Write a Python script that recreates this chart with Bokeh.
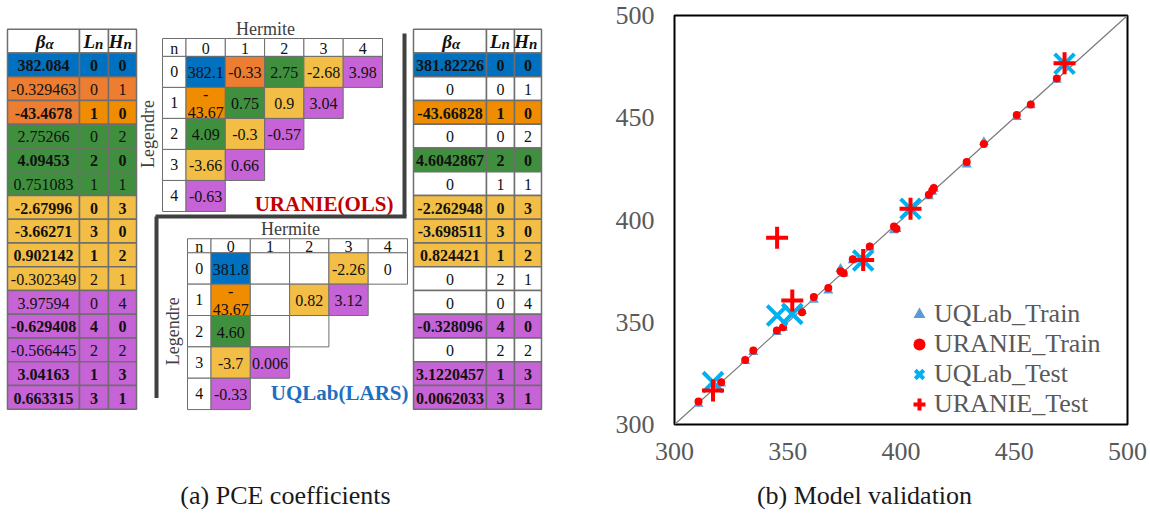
from bokeh.plotting import figure
from bokeh.models import Range1d, ColumnDataSource, FixedTicker, Legend, LegendItem
from bokeh.layouts import column, row
from bokeh.embed import file_html
from bokeh.resources import INLINE
from bokeh.core.properties import value
import math

# ---------------- data ----------------
legendre_n = [0, 0, 1, 0, 2, 1, 0, 3, 1, 2, 0, 4, 2, 1, 3]
hermite_n = [0, 1, 0, 2, 0, 1, 3, 0, 2, 1, 4, 0, 2, 3, 1]
uranie_beta = ["382.084", "-0.329463", "-43.4678", "2.75266", "4.09453", "0.751083",
               "-2.67996", "-3.66271", "0.902142", "-0.302349", "3.97594", "-0.629408",
               "-0.566445", "3.04163", "0.663315"]
uranie_bold = [1, 0, 1, 0, 1, 0, 1, 1, 1, 0, 0, 1, 0, 1, 1]
uqlab_beta = ["381.82226", "0", "-43.66828", "0", "4.6042867", "0", "-2.262948", "-3.698511",
              "0.824421", "0", "0", "-0.328096", "0", "3.1220457", "0.0062033"]
uranie_grid = ["382.1", "-0.33", "-\n43.67", "2.75", "4.09", "0.75", "-2.68", "-3.66",
               "0.9", "-0.3", "3.98", "-0.63", "-0.57", "3.04", "0.66"]
uqlab_grid = ["381.8", "", "-\n43.67", "", "4.60", "", "-2.26", "-3.7",
              "0.82", "", "0", "-0.33", "", "3.12", "0.006"]
grid_index = ["0", "1", "2", "3", "4"]

train_true = [310.6, 320.6, 331.2, 334.8, 345.2, 347.9, 356.3, 361.5, 367.9, 373.3, 374.7,
              378.7, 386.2, 396.9, 398.0, 412.3, 413.8, 414.5, 429.0, 436.6, 451.1, 457.3, 468.8]
uqlab_train_pred = [310.1, 320.0, 331.0, 335.4, 345.2, 347.2, 355.5, 361.0, 365.5, 376.1, 373.6,
                    380.3, 386.5, 394.9, 395.6, 411.5, 413.8, 415.2, 427.1, 438.1, 450.3, 456.0, 468.5]
uranie_train_pred = [311.2, 320.7, 331.6, 336.2, 346.0, 347.6, 354.9, 362.3, 366.8, 375.0, 374.0,
                     380.8, 387.0, 396.8, 395.7, 412.3, 414.4, 415.7, 428.4, 437.2, 451.3, 456.5, 469.2]
test_true = [317.0, 345.3, 352.0, 383.3, 404.2, 472.2]
uqlab_test_pred = [320.7, 353.3, 354.1, 380.2, 405.5, 476.4]
uranie_test_pred = [316.6, 391.3, 360.6, 380.5, 405.5, 476.7]
diag = [300, 500]
ticks = [300, 350, 400, 450, 500]

# ---------------- styles ----------------
FONT = "Liberation Serif"
C_BLUE, C_OR1, C_OR2 = "#0070C0", "#ED7D31", "#F08C00"
C_GREEN, C_YEL, C_PUR = "#3F8F3F", "#F2BE45", "#C663D6"
deg_col = [C_BLUE, C_OR1, C_GREEN, C_YEL, C_PUR]
BORDER = "#6E6E6E"
TXT = "#111111"


def coef_color(l, h):
    if (l, h) == (1, 0):
        return C_OR2
    return deg_col[l + h]


# ---------------- left panel ----------------
L = figure(width=568, height=480, x_range=Range1d(0, 568), y_range=Range1d(480, 0),
           output_backend="svg", toolbar_location=None, min_border=0,
           x_axis_location=None, y_axis_location=None, outline_line_color=None)
L.grid.visible = False
L.background_fill_color = None
L.border_fill_color = None


def coef_table(p, xe, beta, bold, mode):
    top0, hh, rh = 16, 28, 27.875
    n = len(beta)
    # header
    p.quad(left=xe[:-1], right=xe[1:], top=[top0] * 3, bottom=[top0 + hh] * 3,
           fill_color="white", line_color=BORDER, line_width=1.5)
    cx = [(xe[i] + xe[i + 1]) / 2 for i in range(3)]
    hy = top0 + hh / 2
    p.text(x=[cx[0] + 2, cx[1] + 1, cx[2] + 1], y=[hy] * 3, text=["β", "L", "H"],
           text_font=value(FONT), text_font_style="bold italic", text_font_size="19px",
           text_align="right", text_baseline="middle", text_color=TXT)
    p.text(x=[cx[0] + 2, cx[1] + 1, cx[2] + 1], y=[hy + 4] * 3, text=["α", "n", "n"],
           text_font=value(FONT), text_font_style="bold italic", text_font_size="15px",
           text_align="left", text_baseline="middle", text_color=TXT)
    lefts, rights, tops, bots, cols = [], [], [], [], []
    tx, ty, tt, ts = [], [], [], []
    for i in range(n):
        l, h = legendre_n[i], hermite_n[i]
        t = top0 + hh + i * rh
        if mode == "uranie":
            cb = deg_col[l + h]
            clh = coef_color(l, h)
            b = bold[i]
        else:
            if beta[i] == "0":
                cb = clh = "white"
                b = 0
            else:
                cb = clh = coef_color(l, h)
                b = 1
        for j, c in enumerate([cb, clh, clh]):
            lefts.append(xe[j]); rights.append(xe[j + 1]); tops.append(t); bots.append(t + rh)
            cols.append(c)
        for j, s in enumerate([beta[i], str(l), str(h)]):
            tx.append(cx[j]); ty.append(t + rh / 2 + 1); tt.append(s)
            ts.append("bold" if b else "normal")
    src = ColumnDataSource(dict(left=lefts, right=rights, top=tops, bottom=bots, color=cols))
    p.quad(left="left", right="right", top="top", bottom="bottom", fill_color="color",
           line_color=BORDER, line_width=1.5, source=src)
    tsrc = ColumnDataSource(dict(x=tx, y=ty, text=tt, style=ts))
    p.text(x="x", y="y", text="text", text_font_style="style", source=tsrc,
           text_font=value(FONT), text_font_size="16px", text_align="center",
           text_baseline="middle", text_color=TXT)


coef_table(L, [7, 79, 108, 136], uranie_beta, uranie_bold, "uranie")
coef_table(L, [413, 486, 514, 541], uqlab_beta, None, "uqlab")


def grid_table(p, gx, header_top, header_h, row_h, labels, mode):
    nw, cw = 23.5, 39.3
    xe = [gx, gx + nw] + [gx + nw + cw * (k + 1) for k in range(5)]
    body_top = header_top + header_h
    # header row
    p.quad(left=xe[:-1], right=xe[1:], top=[header_top] * 6, bottom=[body_top] * 6,
           fill_color="white", line_color=BORDER, line_width=1)
    p.text(x=[(xe[k] + xe[k + 1]) / 2 for k in range(6)], y=[header_top + header_h / 2 + 1] * 6,
           text=["n"] + grid_index, text_font=value(FONT), text_font_size="16px",
           text_align="center", text_baseline="middle", text_color=TXT)
    # row labels
    p.quad(left=[xe[0]] * 5, right=[xe[1]] * 5,
           top=[body_top + k * row_h for k in range(5)],
           bottom=[body_top + (k + 1) * row_h for k in range(5)],
           fill_color="white", line_color=BORDER, line_width=1)
    p.text(x=[(xe[0] + xe[1]) / 2] * 5, y=[body_top + (k + 0.5) * row_h for k in range(5)],
           text=grid_index, text_font=value(FONT), text_font_size="16px",
           text_align="center", text_baseline="middle", text_color=TXT)
    lefts, rights, tops, bots, cols, tx, ty, tt = [], [], [], [], [], [], [], []
    for i in range(len(labels)):
        l, h = legendre_n[i], hermite_n[i]
        if mode == "uranie":
            c = coef_color(l, h)
        else:
            c = "white" if labels[i] in ("", "0") else coef_color(l, h)
        lefts.append(xe[h + 1]); rights.append(xe[h + 2])
        tops.append(body_top + l * row_h); bots.append(body_top + (l + 1) * row_h)
        cols.append(c)
        tx.append((xe[h + 1] + xe[h + 2]) / 2); ty.append(body_top + (l + 0.5) * row_h + 1)
        tt.append(labels[i])
    src = ColumnDataSource(dict(left=lefts, right=rights, top=tops, bottom=bots, color=cols))
    p.quad(left="left", right="right", top="top", bottom="bottom", fill_color="color",
           line_color=BORDER, line_width=1, source=src)
    tsrc = ColumnDataSource(dict(x=tx, y=ty, text=tt))
    p.text(x="x", y="y", text="text", source=tsrc, text_font=value(FONT),
           text_font_size="16px", text_align="center", text_baseline="middle",
           text_color=TXT, text_line_height=1.05)
    # axis titles
    p.text(x=[gx + 103], y=[header_top - 11], text=["Hermite"], text_font=value(FONT),
           text_font_size="18px", text_align="center", text_baseline="middle",
           text_color="#404040")
    p.text(x=[gx - 15], y=[body_top + 2.5 * row_h], text=["Legendre"], text_font=value(FONT),
           text_font_size="18px", text_align="center", text_baseline="middle",
           text_color="#404040", angle=math.pi / 2)
    return xe


grid_table(L, 162, 27, 21, 36.4, uranie_grid, "uranie")
grid_table(L, 187, 262, 16.5, 36.8, uqlab_grid, "uqlab")

L.text(x=[393], y=[221], text=["URANIE(OLS)"], text_font=value(FONT), text_font_style="bold",
       text_font_size="21px", text_align="right", text_baseline="middle", text_color="#C00000")
L.text(x=[408], y=[443], text=["UQLab(LARS)"], text_font=value(FONT), text_font_style="bold",
       text_font_size="21px", text_align="right", text_baseline="middle", text_color="#1F6FC0")

# dividing lines
L.segment(x0=[404, 155, 156], y0=[21, 236, 236], x1=[404, 406, 156], y1=[236, 236, 449],
          line_color="#404040", line_width=4)

# ---------------- right panel ----------------
R = figure(width=582, height=480, x_range=Range1d(300, 500), y_range=Range1d(300, 500),
           output_backend="svg", toolbar_location=None,
           min_border_left=106, min_border_right=23, min_border_top=15, min_border_bottom=56)
R.grid.visible = False
R.outline_line_color = "black"
R.outline_line_width = 2
for ax in (R.xaxis, R.yaxis):
    ax.ticker = FixedTicker(ticks=ticks)
    ax.axis_line_color = None
    ax.major_tick_line_color = None
    ax.minor_tick_line_color = None
    ax.major_label_text_font = FONT
    ax.major_label_text_font_size = "26px"
    ax.major_label_text_color = "#595959"
R.xaxis.major_label_standoff = 12
R.yaxis.major_label_standoff = 14

R.line(diag, diag, line_color="#7a7a7a", line_width=1.2)
r1 = R.scatter(train_true, uqlab_train_pred, marker="triangle", size=10,
               fill_color="#5B9BD5", line_color=None)
r2 = R.scatter(train_true, uranie_train_pred, marker="circle", size=8,
               fill_color="#FF0000", line_color=None)
r3 = R.scatter(test_true, uqlab_test_pred, marker="x", size=28,
               line_color="#00B0F0", line_width=4)
r4 = R.scatter(test_true, uranie_test_pred, marker="cross", size=22,
               line_color="#FF0000", line_width=4)

legend = Legend(items=[LegendItem(label="UQLab_Train", renderers=[r1]),
                       LegendItem(label="URANIE_Train", renderers=[r2]),
                       LegendItem(label="UQLab_Test", renderers=[r3]),
                       LegendItem(label="URANIE_Test", renderers=[r4])],
                location=(230, 5), glyph_width=30, glyph_height=30, label_height=30,
                spacing=0, padding=0, margin=0, label_standoff=0,
                background_fill_alpha=0, border_line_color=None,
                label_text_font=FONT, label_text_font_size="26px",
                label_text_color="#595959")
R.add_layout(legend)

# ---------------- captions ----------------
C = figure(width=1150, height=34, x_range=Range1d(0, 1150), y_range=Range1d(514, 480),
           output_backend="svg", toolbar_location=None, min_border=0,
           x_axis_location=None, y_axis_location=None, outline_line_color=None)
C.grid.visible = False
C.text(x=[285, 864], y=[495, 495], text=["(a) PCE coefficients", "(b) Model validation"],
       text_font=value(FONT), text_font_size="26px", text_align="center",
       text_baseline="middle", text_color="#1a1a1a")

layout = column(row(L, R), C)
open("out.html", "w").write(file_html(layout, INLINE))
